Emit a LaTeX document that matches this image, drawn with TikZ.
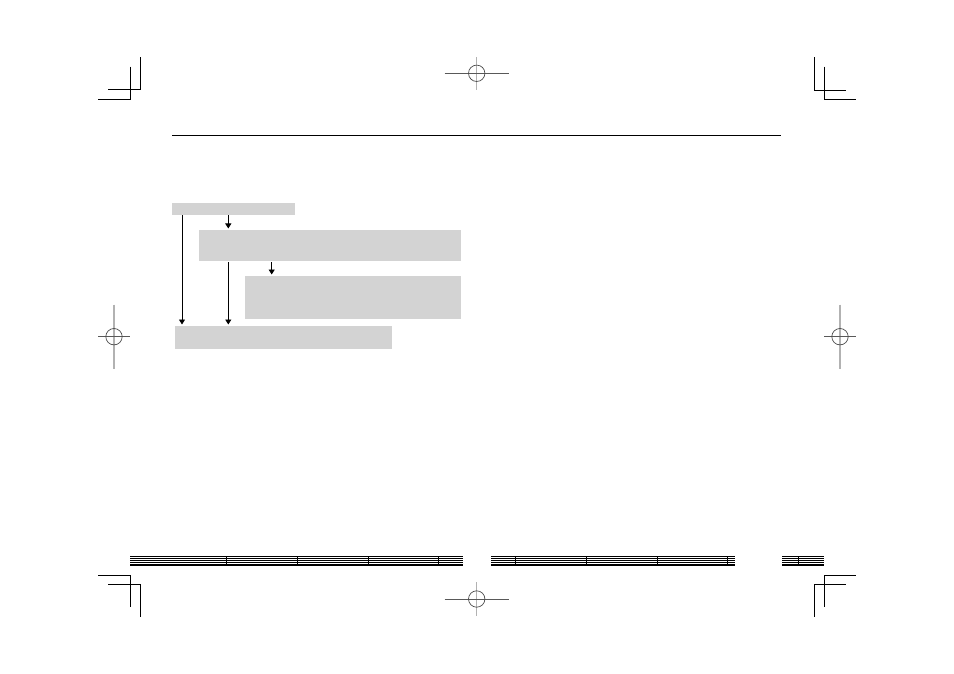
\documentclass[tikz,border=0pt]{standalone}
\usetikzlibrary{arrows.meta}
\begin{document}
\begin{tikzpicture}[x=1pt,y=-1pt,
  box/.style={fill=boxgray,draw=none,inner sep=0pt,anchor=north west},
  arr/.style={line width=0.9pt,-{Triangle[width=6pt,length=5pt]},shorten >=1.5pt},
  crop/.style={line width=1pt,black},
  regh/.style={line width=0.7pt,black!65},
  regv/.style={line width=1.3pt,black!30},
  regc/.style={line width=0.7pt,black!70},
  barline/.style={line width=0.8pt,black},
  barthick/.style={line width=1.1pt,black}]
\definecolor{boxgray}{HTML}{D3D3D3}
\useasboundingbox[fill=white] (0,0) rectangle (954,674);

% top rule
\draw[line width=0.9pt] (172,135) -- (781,135);

% boxes
\node[box,minimum width=123pt,minimum height=11.7pt] (b1) at (172,203) {};
\node[box,minimum width=262pt,minimum height=30.7pt] (b2) at (199,230) {};
\node[box,minimum width=216pt,minimum height=42.7pt] (b3) at (245,276) {};
\node[box,minimum width=217pt,minimum height=22.7pt] (b4) at (175,326) {};

% arrows
\draw[arr] ([xshift=10pt]b1.south west) -- ([xshift=7pt]b4.north west);
\draw[arr] ([xshift=56.3pt]b1.south west) -- ([xshift=29.3pt]b2.north west);
\draw[arr] ([xshift=29.3pt,yshift=-1pt]b2.south west) -- ([xshift=53.3pt]b4.north west);
\draw[arr] ([xshift=72.7pt,yshift=-1pt]b2.south west) -- ([xshift=26.7pt]b3.north west);

% crop marks top-left
\draw[crop] (130.7,66.7) -- (130.7,99.3) -- (98,99.3);
\draw[crop] (140.7,57.3) -- (140.7,90) -- (108,90);
% top-right
\draw[crop] (814.3,57.3) -- (814.3,90.3) -- (845.7,90.3);
\draw[crop] (824.3,66.7) -- (824.3,99.3) -- (855.7,99.3);
% bottom-left
\draw[crop] (98,575) -- (130.7,575) -- (130.7,606.7);
\draw[crop] (108,584.3) -- (140.7,584.3) -- (140.7,616.7);
% bottom-right
\draw[crop] (855.7,575.3) -- (824.3,575.3) -- (824.3,606.7);
\draw[crop] (845.7,584.3) -- (814.3,584.3) -- (814.3,616.7);

% registration marks
\foreach \cx/\cy/\hl/\hr/\vt/\vb in {476.7/73.3/444.7/509/57.3/90, 476.7/599/444.7/509/582.3/615.7, 114/336.7/98/130/304.7/369, 840/336.7/824/856/304.7/369}{
  \draw[regv] (\cx,\vt) -- (\cx,\vb);
  \draw[regh] (\hl,\cy) -- (\hr,\cy);
  \draw[regc] (\cx,\cy) circle[radius=8.2pt];
}

% bar strips
\foreach \xa/\xb in {130/463.3, 491/735, 782/824}{
  \foreach \yy in {556.3,558.3,560.3,562.3}{
    \draw[barline] (\xa,\yy) -- (\xb,\yy);
  }
  \draw[barthick] (\xa,565) -- (\xb,565);
}
\foreach \tx in {226.3,297.3,368.3,438.3,515.3,586.3,657.3,727.3,798.7}{
  \draw[line width=1pt] (\tx,556) -- (\tx,565.5);
}
\end{tikzpicture}
\end{document}
